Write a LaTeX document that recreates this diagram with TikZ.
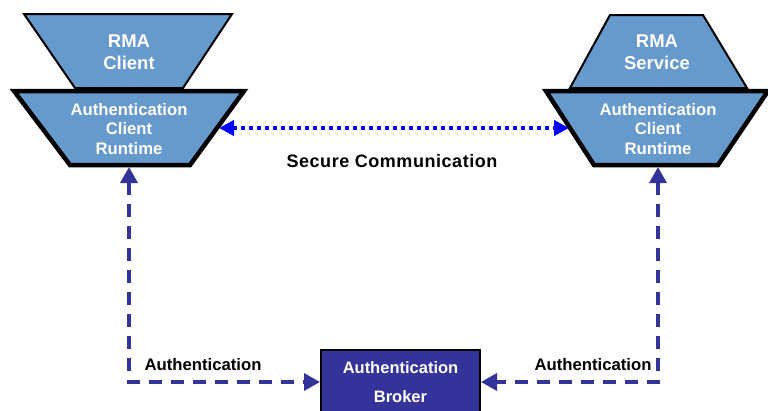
\documentclass[tikz,border=0pt]{standalone}
\usepackage{fontspec}
\setmainfont{Liberation Sans}
\usetikzlibrary{arrows.meta,calc}
\definecolor{trapfill}{HTML}{6699CC}
\definecolor{navyblue}{HTML}{333399}
\definecolor{dotblue}{HTML}{0000FF}
\begin{document}
\begin{tikzpicture}[x=1pt,y=-1pt,
  thinshape/.style={fill=trapfill,draw=black,line width=2pt,line join=miter},
  thickshape/.style={fill=trapfill,draw=black,line width=4.5pt,line join=miter},
  rmatxt/.style={text=white,font=\bfseries\fontsize{18.5}{21.5}\selectfont,align=center,inner sep=0pt},
  acrtxt/.style={text=white,font=\bfseries\fontsize{16.7}{19.5}\selectfont,align=center,inner sep=0pt},
  brokerbox/.style={fill=navyblue,draw=black,line width=2pt,minimum width=159pt,minimum height=64pt,
    text=white,font=\bfseries\fontsize{16.5}{29}\selectfont,align=center,inner sep=0pt},
  lbl/.style={text=black,font=\bfseries\fontsize{16.7}{20}\selectfont,inner sep=0pt},
  dashconn/.style={draw=navyblue,line width=3.5pt,dash pattern=on 13pt off 9pt,
    {Triangle[length=16pt,width=17pt]}-{Triangle[length=16pt,width=17pt]}},
  dotconn/.style={draw=dotblue,line width=4pt,dash pattern=on 4pt off 4pt,
    {Triangle[length=15pt,width=15pt]}-{Triangle[length=15pt,width=15pt]}}
]
\useasboundingbox[fill=white] (0,0) rectangle (768,410);

% upper left trapezoid (RMA Client)
\coordinate (ULa) at (24,14);
\coordinate (ULb) at (232,14);
\coordinate (ULc) at (183,88);
\coordinate (ULd) at (75,88);
\draw[thinshape] (ULa) -- (ULb) -- (ULc) -- (ULd) -- cycle;
\node[rmatxt] (rmaclient) at (129,52) {RMA\\Client};

% upper right trapezoid (RMA Service)
\coordinate (URa) at (610,15);
\coordinate (URb) at (703,15);
\coordinate (URc) at (747,88);
\coordinate (URd) at (570,88);
\draw[thinshape] (URa) -- (URb) -- (URc) -- (URd) -- cycle;
\node[rmatxt] (rmaservice) at (657,52) {RMA\\Service};

% lower left trapezoid
\coordinate (LLa) at (14,91);
\coordinate (LLb) at (244,91);
\coordinate (LLc) at (190,165);
\coordinate (LLd) at (70,165);
\draw[thickshape] (LLa) -- (LLb) -- (LLc) -- (LLd) -- cycle;
\node[acrtxt] (acrleft) at (129,129) {Authentication\\Client\\Runtime};
\coordinate (LLright) at ($(LLb)!0.5!(LLc)$);
\coordinate (LLbottom) at (129,167);

% lower right trapezoid
\coordinate (LRa) at (546,91);
\coordinate (LRb) at (768,91);
\coordinate (LRc) at (718,165);
\coordinate (LRd) at (594,165);
\draw[thickshape] (LRa) -- (LRb) -- (LRc) -- (LRd) -- cycle;
\node[acrtxt] (acrright) at (658,129) {Authentication\\Client\\Runtime};
\coordinate (LRleft) at ($(LRa)!0.5!(LRd)$);
\coordinate (LRbottom) at (658,167);

% broker
\node[brokerbox,anchor=north] (broker) at (400.5,349) {Authentication\\Broker};

% secure communication
\draw[dotconn] ($(LLright)+(2,0)$) -- ($(LRleft)+(-1,0)$);
\node[lbl,font=\bfseries\fontsize{18}{20}\selectfont\addfontfeature{LetterSpace=3}] (securelbl) at (392,161) {Secure Communication};

% authentication connectors
\draw[dashconn] (LLbottom) |- (broker.west);
\draw[dashconn] (LRbottom) |- (broker.east);
\node[lbl] (authleft) at (203,365) {Authentication};
\node[lbl] (authright) at (593,365) {Authentication};
\end{tikzpicture}
\end{document}
